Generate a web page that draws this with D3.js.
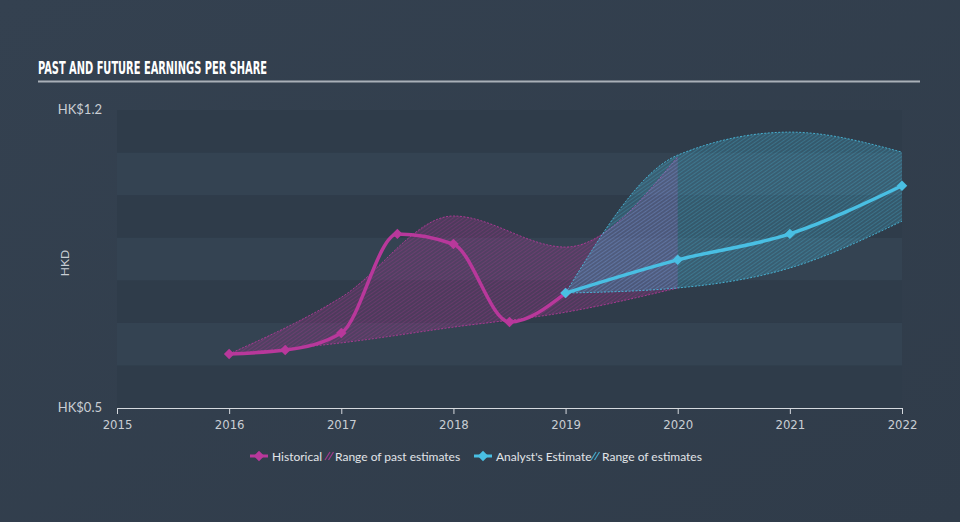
<!DOCTYPE html>
<html>
<head>
<meta charset="utf-8">
<script src="https://cdn.jsdelivr.net/npm/d3@7"></script>
<style>
  body { margin: 0; background: #344150; }
  svg { display: block; }
</style>
</head>
<body>
<div id="chart"></div>
<script>
// values
var pastYears = [2016, 2016.5, 2017, 2017.5, 2018, 2018.5, 2019];
var pastEps = [0.627, 0.636, 0.676, 0.909, 0.885, 0.702, 0.770];

var pastRangeYears = [2016, 2017, 2018, 2019, 2020];
var pastRangeHigh = [0.627, 0.760, 0.951, 0.878, 1.090];
var pastRangeLow = [0.627, 0.653, 0.690, 0.725, 0.782];

var futureYears = [2019, 2020, 2021, 2022];
var futureEps = [0.770, 0.848, 0.909, 1.022];
var futureHigh = [0.770, 1.094, 1.148, 1.101];
var futureLow = [0.770, 0.782, 0.829, 0.939];

var xTicks = [2015, 2016, 2017, 2018, 2019, 2020, 2021, 2022];
var bandEdges = [0.5, 0.6, 0.7, 0.8, 0.9, 1.0, 1.1, 1.2];

window.w = 960;
window.h = 522;
var pink = "#b8389b";
var blue = "#49bfe3";

var svg = d3.select("#chart").append("svg")
  .attr("width", w)
  .attr("height", h);

var defs = svg.append("defs");
var bg = defs.append("linearGradient").attr("id", "bgGrad")
  .attr("x1", 0).attr("y1", 0).attr("x2", 1).attr("y2", 1);
bg.append("stop").attr("offset", "0%").attr("stop-color", "#344150");
bg.append("stop").attr("offset", "100%").attr("stop-color", "#303c4a");

function hatch(id, color) {
  var p = defs.append("pattern").attr("id", id)
    .attr("patternUnits", "userSpaceOnUse")
    .attr("width", 3).attr("height", 3)
    .attr("patternTransform", "rotate(55)");
  p.append("rect").attr("width", 3).attr("height", 3)
    .attr("fill", color).attr("fill-opacity", 0.22);
  p.append("line").attr("x1", 0).attr("y1", 0).attr("x2", 0).attr("y2", 3)
    .attr("stroke", color).attr("stroke-width", 1).attr("stroke-opacity", 0.5);
}
hatch("pinkHatch", pink);
hatch("blueHatch", blue);

svg.append("rect").attr("width", w).attr("height", h).attr("fill", "url(#bgGrad)");

var x = d3.scaleLinear().domain([2015, 2022]).range([117, 902]);
var y = d3.scaleLinear().domain([0.5, 1.2]).range([408, 110]);

// alternating bands
for (var i = 0; i < bandEdges.length - 1; i++) {
  svg.append("rect")
    .attr("x", x(2015))
    .attr("y", y(bandEdges[i + 1]))
    .attr("width", x(2022) - x(2015))
    .attr("height", y(bandEdges[i]) - y(bandEdges[i + 1]))
    .attr("fill", i % 2 == 0 ? "#2f3c4a" : "#344352");
}

// title
svg.append("text")
  .attr("x", 38).attr("y", 74)
  .attr("fill", "#ffffff")
  .attr("font-family", "'Liberation Sans Narrow', 'DejaVu Sans Condensed', sans-serif")
  .attr("font-weight", "bold")
  .attr("font-size", 18)
  .attr("textLength", 229)
  .attr("lengthAdjust", "spacingAndGlyphs")
  .text("PAST AND FUTURE EARNINGS PER SHARE");
svg.append("line")
  .attr("x1", 38).attr("x2", 920).attr("y1", 81.5).attr("y2", 81.5)
  .attr("stroke", "#a9b0b8").attr("stroke-width", 2);

// y labels
var labelFont = "Lato, 'Open Sans', sans-serif";
svg.append("text").attr("x", 102).attr("y", 114).attr("text-anchor", "end")
  .attr("fill", "#c9ced4").attr("font-family", labelFont).attr("font-size", 13)
  .text("HK$1.2");
svg.append("text").attr("x", 102).attr("y", 412).attr("text-anchor", "end")
  .attr("fill", "#c9ced4").attr("font-family", labelFont).attr("font-size", 13)
  .text("HK$0.5");
svg.append("text")
  .attr("transform", "translate(69,263) rotate(-90)")
  .attr("text-anchor", "middle")
  .attr("fill", "#c9ced4").attr("font-family", labelFont).attr("font-size", 12)
  .text("HKD");

// ranges
function rangeArea(years, lo, hi, fillId, color) {
  var pts = years.map(function(d, i) { return {x: d, lo: lo[i], hi: hi[i]}; });
  svg.append("path").datum(pts)
    .attr("fill", "url(#" + fillId + ")")
    .attr("d", d3.area().curve(d3.curveMonotoneX)
      .x(function(d) { return x(d.x); })
      .y0(function(d) { return y(d.lo); })
      .y1(function(d) { return y(d.hi); }));
  [lo, hi].forEach(function(arr) {
    svg.append("path").datum(pts)
      .attr("fill", "none")
      .attr("stroke", color).attr("stroke-width", 1)
      .attr("stroke-dasharray", "2,1.5").attr("stroke-opacity", 0.85)
      .attr("d", d3.line().curve(d3.curveMonotoneX)
        .x(function(d) { return x(d.x); })
        .y(function(d, i) { return y(arr[i]); }));
  });
}
rangeArea(pastRangeYears, pastRangeLow, pastRangeHigh, "pinkHatch", pink);
rangeArea(futureYears, futureLow, futureHigh, "blueHatch", blue);

// lines
function drawSeries(years, vals, color) {
  var pts = years.map(function(d, i) { return [d, vals[i]]; });
  svg.append("path").datum(pts)
    .attr("fill", "none").attr("stroke", color).attr("stroke-width", 3.5)
    .attr("d", d3.line().curve(d3.curveMonotoneX)
      .x(function(d) { return x(d[0]); })
      .y(function(d) { return y(d[1]); }));
  svg.selectAll(null).data(pts).enter().append("path")
    .attr("transform", function(d) { return "translate(" + x(d[0]) + "," + y(d[1]) + ")"; })
    .attr("d", d3.symbol().type(d3.symbolDiamond2).size(70))
    .attr("fill", color);
}
drawSeries(pastYears, pastEps, pink);
drawSeries(futureYears, futureEps, blue);

// x axis
var xAxis = d3.axisBottom(x).tickValues(xTicks).tickFormat(d3.format("d"))
  .tickSize(6).tickSizeOuter(0);
var g = svg.append("g").attr("transform", "translate(0,408)").call(xAxis);
g.select(".domain").attr("stroke", "#d5d9de").attr("stroke-width", 1);
g.selectAll(".tick line").attr("stroke", "#d5d9de");
g.selectAll(".tick text").attr("fill", "#c9ced4")
  .attr("font-family", "'Liberation Sans Narrow', 'DejaVu Sans Condensed', sans-serif")
  .attr("font-size", 13).attr("dy", "0.9em");

// legend
var legFont = "Lato, 'Open Sans', sans-serif";
function legSymbol(cx, color) {
  svg.append("line").attr("x1", cx - 9).attr("x2", cx + 9).attr("y1", 456).attr("y2", 456)
    .attr("stroke", color).attr("stroke-width", 3);
  svg.append("path").attr("transform", "translate(" + cx + ",456)")
    .attr("d", d3.symbol().type(d3.symbolDiamond2).size(70)).attr("fill", color);
}
function legHatch(x0, color) {
  for (var k = 0; k < 2; k++) {
    svg.append("line")
      .attr("x1", x0 + k * 3.5).attr("y1", 460).attr("x2", x0 + 5 + k * 3.5).attr("y2", 452)
      .attr("stroke", color).attr("stroke-width", 1.3).attr("stroke-opacity", 0.8);
  }
}
function legText(x0, str) {
  svg.append("text").attr("x", x0).attr("y", 460.5)
    .attr("fill", "#e1e4e8").attr("font-family", legFont).attr("font-size", 12)
    .text(str);
}
legSymbol(259, pink);
legText(272, "Historical");
legHatch(325, pink);
legText(335, "Range of past estimates");
legSymbol(483, blue);
legText(496, "Analyst's Estimate");
legHatch(591, blue);
legText(602, "Range of estimates");
</script>
</body>
</html>
